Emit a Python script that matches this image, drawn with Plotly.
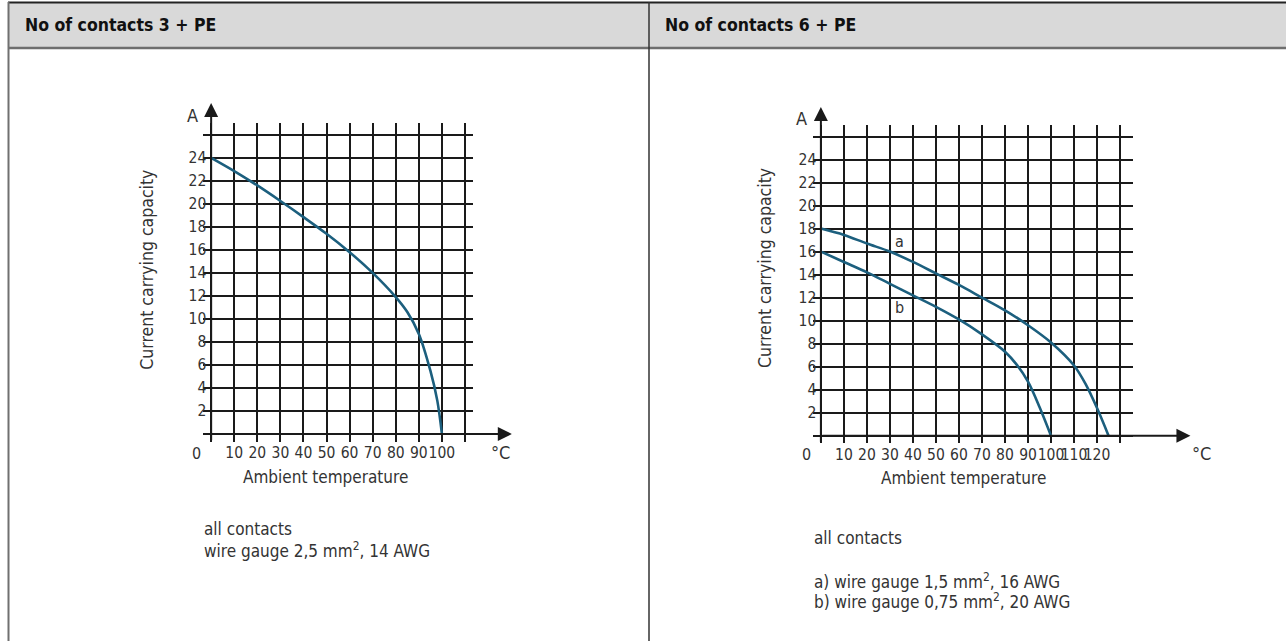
import plotly.graph_objects as go

W, H = 1286, 641

# ---------------- data ----------------
temp_left = [0, 10, 20, 30, 40, 50, 60, 70, 80, 85, 90, 95, 98, 100]
cur_left = [24, 22.85, 21.6, 20.25, 18.85, 17.4, 15.8, 14.0, 11.9, 10.6, 8.7, 5.5, 2.9, 0]

temp_a = [0, 10, 20, 30, 40, 50, 60, 70, 80, 90, 100, 110, 115, 120, 125]
cur_a = [18, 17.45, 16.7, 16.0, 15.1, 14.1, 13.1, 12.0, 10.9, 9.6, 8.1, 6.1, 4.5, 2.4, 0]

temp_b = [0, 10, 20, 30, 40, 50, 60, 70, 80, 85, 90, 95, 100]
cur_b = [16, 15.1, 14.2, 13.2, 12.2, 11.2, 10.1, 8.8, 7.3, 6.2, 4.7, 2.5, 0]

grid_x_left = list(range(0, 111, 10))
grid_x_right = list(range(0, 131, 10))
grid_y = list(range(0, 27, 2))
x_ticks_left = list(range(10, 101, 10))
x_ticks_right = list(range(10, 121, 10))
y_ticks = list(range(2, 25, 2))

header_left = "No of contacts 3 + PE"
header_right = "No of contacts 6 + PE"
notes_left = ["all contacts", "wire gauge 2,5 mm<sup>2</sup>, 14 AWG"]
notes_right = ["all contacts", "a) wire gauge 1,5 mm<sup>2</sup>, 16 AWG",
               "b) wire gauge 0,75 mm<sup>2</sup>, 20 AWG"]

# ---------------- style ----------------
FONT = "DejaVu Sans Condensed, Liberation Sans Narrow, sans-serif"
TXT = "#333333"
GRID = "#1a1a1a"
CURVE = "#1c5f7e"


def px(x):
    return x / W


def py(y):
    return 1 - y / H


fig = go.Figure()

for xs, ys, xa, ya in [(temp_left, cur_left, "x", "y"), (temp_a, cur_a, "x2", "y2"),
                       (temp_b, cur_b, "x2", "y2")]:
    fig.add_trace(go.Scatter(x=xs, y=ys, mode="lines", xaxis=xa, yaxis=ya,
                             line=dict(color=CURVE, width=2.6, shape="spline", smoothing=0.9),
                             hoverinfo="skip", showlegend=False))

axis_common = dict(showgrid=True, gridcolor=GRID, gridwidth=2.2, zeroline=False,
                   showline=False, ticks="", tickmode="array", tickangle=0,
                   tickfont=dict(family=FONT, size=15.5, color=TXT), fixedrange=True)


def minor(vals):
    return dict(tickvals=vals, showgrid=True, gridcolor=GRID, gridwidth=2.2, ticks="")


fig.update_layout(
    width=W, height=H,
    margin=dict(l=0, r=0, t=0, b=0),
    paper_bgcolor="white", plot_bgcolor="white",
    showlegend=False,
    xaxis=dict(domain=[px(203.3), px(473.3)], range=[-3.4, 113.6], anchor="y",
               tickvals=x_ticks_left, ticktext=[str(v) for v in x_ticks_left],
               minor=minor(grid_x_left), **axis_common),
    yaxis=dict(domain=[py(441.7), py(123.3)], range=[-0.67, 27.0], anchor="x",
               tickvals=y_ticks, ticktext=[str(v) for v in y_ticks], ticklabelstandoff=-4,
               minor=minor(grid_y), **axis_common),
    xaxis2=dict(domain=[px(813.3), px(1132.7)], range=[-3.3, 135.5], anchor="y2",
                tickvals=x_ticks_right, ticktext=[str(v) for v in x_ticks_right],
                minor=minor(grid_x_right), **axis_common),
    yaxis2=dict(domain=[py(443.3), py(125.0)], range=[-0.66, 27.0], anchor="x2",
                tickvals=y_ticks, ticktext=[str(v) for v in y_ticks], ticklabelstandoff=-4,
                minor=minor(grid_y), **axis_common),
)

# ---------------- table frame ----------------
shapes = [
    dict(type="rect", xref="paper", yref="paper", x0=px(8), x1=1, y0=py(48), y1=py(3),
         fillcolor="#d9d9d9", line=dict(width=0), layer="below"),
    dict(type="line", xref="paper", yref="paper", x0=px(8), x1=1, y0=py(2.5), y1=py(2.5),
         line=dict(color="#222222", width=2)),
    dict(type="line", xref="paper", yref="paper", x0=px(8), x1=1, y0=py(48), y1=py(48),
         line=dict(color="#6e6e6e", width=2.5)),
    dict(type="line", xref="paper", yref="paper", x0=px(8.5), x1=px(8.5), y0=py(2), y1=0,
         line=dict(color="#707070", width=2)),
    dict(type="line", xref="paper", yref="paper", x0=px(649), x1=px(649), y0=py(2), y1=0,
         line=dict(color="#333333", width=1.5)),
]
fig.update_layout(shapes=shapes)

ann = []


def text(x, y, s, size=17, anchor="left", color=TXT, bold=False, angle=0):
    ann.append(dict(x=px(x), y=py(y), xref="paper", yref="paper", text=s, showarrow=False,
                    xanchor=anchor, yanchor="middle", textangle=angle,
                    font=dict(family=FONT, size=size, color=color,
                              weight="bold" if bold else "normal")))


text(23, 25, header_left, size=17.5, color="#111111", bold=True)
text(663, 25, header_right, size=17.5, color="#111111", bold=True)

# axis labels
text(192.5, 116, "A", size=18, anchor="center")
text(801, 118, "A", size=18, anchor="center")
text(196.7, 453, "0", size=16, anchor="center")
text(806.7, 454, "0", size=16, anchor="center")
text(500, 452, "°C", size=18, anchor="center")
text(1201.7, 453, "°C", size=18, anchor="center")
text(325, 477, "Ambient temperature", size=17, anchor="center")
text(963.3, 478, "Ambient temperature", size=17, anchor="center")
text(146.7, 270, "Current carrying capacity", size=17.5, anchor="center", angle=-90)
text(765, 268, "Current carrying capacity", size=17.5, anchor="center", angle=-90)

# notes
for i, s in enumerate(notes_left):
    text(202, 529 + i * 21, s, size=17)
text(812, 538, notes_right[0], size=17)
for i, s in enumerate(notes_right[1:]):
    text(812, 581 + i * 20, s, size=17)

# curve labels
for lab, xv, yv in [("a", 34, 16.9), ("b", 34, 11.1)]:
    ann.append(dict(x=xv, y=yv, xref="x2", yref="y2", text=lab, showarrow=False,
                    font=dict(family=FONT, size=16, color=TXT)))

# axis arrows
for xr, yr, xtip, ytip, ybot in [("x", "y", 130.3, 28.76, -0.67), ("x2", "y2", 160.6, 28.56, -0.66)]:
    ann.append(dict(x=0, y=ytip, ax=0, ay=ybot, xref=xr, yref=yr, axref=xr, ayref=yr,
                    text="", showarrow=True, arrowhead=2, arrowsize=1.4, arrowwidth=2,
                    arrowcolor=GRID))
    ann.append(dict(x=xtip, y=0, ax=0, ay=0, xref=xr, yref=yr, axref=xr, ayref=yr,
                    text="", showarrow=True, arrowhead=2, arrowsize=1.4, arrowwidth=2,
                    arrowcolor=GRID))

fig.update_layout(annotations=ann)

fig.write_html("out.html", config={"displayModeBar": False},
               post_script="document.body.style.margin='0';document.body.style.overflow='hidden';")
